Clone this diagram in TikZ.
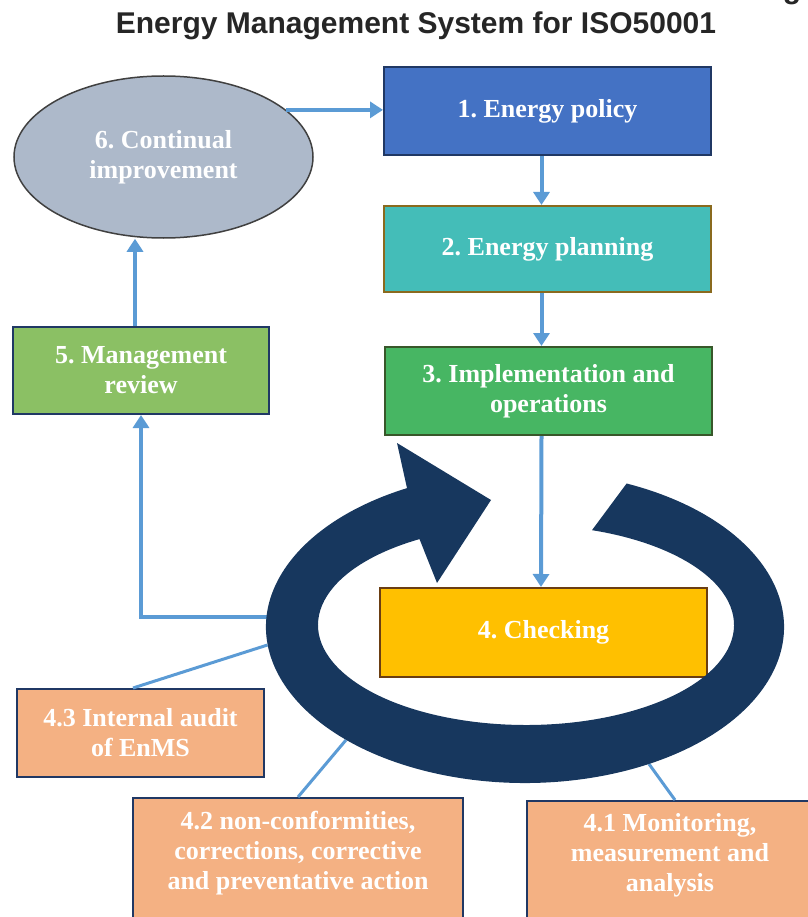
\documentclass[tikz,border=0pt]{standalone}
\usepackage{fontspec}
\setmainfont{Liberation Serif}
\newfontfamily\titlefont{Liberation Sans}
\usetikzlibrary{arrows.meta,shapes.geometric}
\frenchspacing

\definecolor{flowblue}{HTML}{5B9BD5}
\definecolor{ringnavy}{HTML}{17375E}
\definecolor{edgenavy}{HTML}{203864}
\definecolor{policyfill}{HTML}{4472C4}
\definecolor{planfill}{HTML}{44BDB8}
\definecolor{planedge}{HTML}{8A6A1E}
\definecolor{implfill}{HTML}{47B663}
\definecolor{impledge}{HTML}{38572A}
\definecolor{checkfill}{HTML}{FFC000}
\definecolor{checkedge}{HTML}{6B3E12}
\definecolor{reviewfill}{HTML}{8BC064}
\definecolor{improvefill}{HTML}{ADB9CA}
\definecolor{subfill}{HTML}{F4B183}
\definecolor{titlegray}{HTML}{262626}

\begin{document}
\begin{tikzpicture}[x=1pt,y=-1pt,
  label text/.style={text=white, align=center,
    font=\bfseries\fontsize{26}{30}\selectfont},
  stagebox/.style={label text, draw, line width=2pt, inner sep=2pt,
    minimum width=327pt, minimum height=88pt},
  subbox/.style={draw=edgenavy, fill=subfill, line width=2pt, inner sep=0pt},
  flow/.style={draw=flowblue, line width=4pt,
    -{Triangle[width=16pt,length=13pt]}},
  leader/.style={draw=flowblue, line width=3pt},
]
\useasboundingbox (0,0) rectangle (807,917);

% title
\node[anchor=base, text=titlegray, font=\titlefont\bfseries\fontsize{30}{36}\selectfont]
  (title) at (416,33.5) {Energy Management System for ISO50001};
\node[anchor=base, text=titlegray, font=\titlefont\bfseries\fontsize{30}{36}\selectfont]
  (titletail) at (792,-1.5) {g};

% main cycle stages
\node[stagebox, fill=policyfill, draw=edgenavy] (b1) at (547.5,111) {1. Energy policy};
\node[stagebox, fill=planfill, draw=planedge, minimum height=86pt] (b2) at (547.5,249) {2. Energy planning};
\node[stagebox, fill=implfill, draw=impledge] (b3) at (548.5,391) {3. Implementation and\\operations};
\node[stagebox, fill=checkfill, draw=checkedge, minimum height=89pt] (b4) at (543.5,632.5) {4. Checking};
\node[stagebox, fill=reviewfill, draw=edgenavy, minimum width=256pt, minimum height=87pt] (b5) at (141,370.5) {5. Management\\review};
\node[label text, ellipse, fill=improvefill, draw=black!75, line width=1.5pt,
  minimum width=299pt, minimum height=162pt, inner sep=0pt] (ell) at (163.5,157) {6. Continual\\improvement};

% checking sub-activities
\node[subbox, label text, minimum width=247pt, minimum height=88pt] (a43) at (140.5,733) {4.3 Internal audit\\of EnMS};
\node[subbox, anchor=north, minimum width=330pt, minimum height=140pt] (a42) at (298,797) {};
\node[label text] (t42) at (298,853) {4.2 non-conformities,\\corrections, corrective\\and preventative action};
\node[subbox, anchor=north, minimum width=290pt, minimum height=140pt] (a41) at (672,800) {};
\node[label text] (t41) at (670,855) {4.1 Monitoring,\\measurement and\\analysis};

% points on the outer rim of the circular arrow
\coordinate (rim5) at (267,617);
\coordinate (rim43) at (267.5,645);
\coordinate (rim42) at (346,740);
\coordinate (rim41) at (649,764);

% flow arrows
\draw[flow] (ell.21) -- (ell.21 -| b1.west);
\draw[flow] ([xshift=-6pt]b1.south) -- ([xshift=-6pt]b2.north);
\draw[flow] ([xshift=-6pt]b2.south) -- ([xshift=-7pt]b3.north);
\draw[flow] ([xshift=-7pt]b3.south) -- ([xshift=-2.5pt]b4.north);
\draw[flow] (rim5) -| (b5.south);
\draw[flow] ([xshift=-6pt]b5.north) -- ([xshift=-6pt]b5.north |- ell.south);

% leader lines
\draw[leader] ([xshift=-7.5pt]a43.north) -- (rim43);
\draw[leader] (a42.north) -- (rim42);
\draw[leader] ([xshift=3pt]a41.north) -- (rim41);

% circular arrow around the checking stage
\fill[ringnavy]
  (626.6,483.5)
  arc[start angle=-66.9, end angle=242.9, x radius=259, y radius=156]
  -- (397,443) -- (491,500) -- (437,583) -- (419.5,539.1)
  arc[start angle=239.2, end angle=-71.5, x radius=208, y radius=100]
  -- cycle;
\end{tikzpicture}
\end{document}
